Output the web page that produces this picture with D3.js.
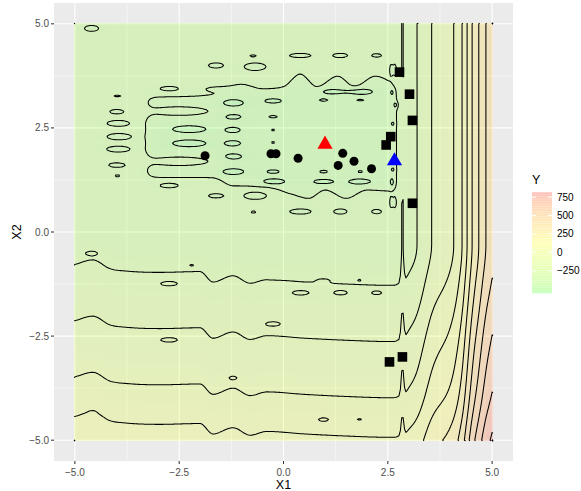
<!DOCTYPE html>
<html lang="en">
<head>
  <meta charset="utf-8">
  <title>Y over X1, X2</title>
  <script src="https://cdn.jsdelivr.net/npm/d3@7/dist/d3.min.js"></script>
  <style>
    html,body{margin:0;background:#fff}
    svg{display:block;font-family:"Liberation Sans",Arial,sans-serif}
    .tick-lab{font-size:10px;fill:#4d4d4d}
    .ax-title{font-size:12.5px;fill:#000}
  </style>
</head>
<body>
<svg id="chart" width="581" height="491"></svg>
<script>
// ---- values ----
const baseY = -350;                      // flat upper plateau
// rise of Y along X1 (top half), contour crossings read from the right side
const x1Knots = [-5, 2.6, 2.78, 2.85, 2.92, 3.0, 3.2, 3.55, 4.08, 4.28, 4.4, 4.52, 4.68, 4.85, 5.0];
const x1Rise  = [0, 0, 5, 58, 12, 20, 50, 150, 250, 350, 450, 550, 650, 750, 812];
// rise of Y along X2 (left part), from the horizontal contours
const x2Knots = [-5, -4.65, -3.7, -2.35, -1.0, -0.3, 0, 5];
const x2Rise  = [385, 350, 250, 150, 50, 6, 0, 0];
// vertical drift of those horizontal contours along X1
const driftX1 = [-5, -4.57, -4.16, -3.75, -2.96, -2.0, -1.69, -1.21, -0.8, -0.4, 0.5, 1.5, 2.5, 5];
const drift   = [0.22, 0.33, 0.12, 0.06, 0.03, 0.05, -0.2, -0.05, -0.23, -0.14, -0.2, -0.25, -0.28, -0.28];
// the closed basin in the upper middle
const basinX1 = [-3.3, 2.72];
const basinTopX1 = [-3.3, -1.7, -1.0, -0.5, 0.0, 0.4, 0.8, 1.3, 1.7, 2.2, 2.72];
const basinTop   = [3.25, 3.3, 3.55, 3.45, 3.5, 3.8, 3.5, 3.75, 3.5, 3.75, 3.55];
const basinBotX1 = [-3.3, -1.7, -1.2, -0.5, 0.2, 0.6, 1.0, 1.5, 2.0, 2.72];
const basinBot   = [1.3, 1.3, 1.1, 1.1, 0.9, 0.8, 1.0, 0.8, 1.0, 0.95];
const basinDepth = -95;
// small closed contours: x1, x2, half width, half height, level they trace
const blobs = [
  [-4.6, 4.89, 0.17, 0.07, -400], [-0.73, 4.23, 0.07, 0.025, -400], [-1.62, 4.0, 0.18, 0.06, -400],
  [-0.68, 3.97, 0.26, 0.09, -400], [0.4, 4.24, 0.26, 0.05, -400], [1.36, 4.24, 0.18, 0.05, -400],
  [2.23, 4.24, 0.12, 0.04, -400],
  [-3.98, 3.27, 0.08, 0.02, -400], [-3.98, 2.89, 0.2, 0.06, -400], [-3.96, 2.61, 0.27, 0.07, -400],
  [-3.94, 2.29, 0.29, 0.075, -400], [-3.96, 1.99, 0.28, 0.07, -400], [-3.98, 1.61, 0.22, 0.06, -400],
  [-3.98, 1.35, 0.08, 0.02, -400],
  [-2.74, 3.45, 0.22, 0.05, -400], [-1.6, 3.44, 0.3, 0.06, -400],
  [-2.74, 1.11, 0.22, 0.05, -400], [-1.62, 0.87, 0.18, 0.05, -400], [-0.68, 0.86, 0.27, 0.08, -400],
  [-0.72, 0.48, 0.06, 0.025, -400], [0.4, 0.49, 0.26, 0.06, -400], [1.36, 0.49, 0.16, 0.06, -400],
  [2.23, 0.49, 0.12, 0.05, -400],
  [-2.5, 2.9, 0.7, 0.1, -400], [-2.5, 1.7, 0.7, 0.1, -400],
  [-2.26, 2.47, 0.4, 0.08, -500], [-2.26, 2.13, 0.4, 0.08, -500],
  [-1.21, 3.1, 0.25, 0.08, -500], [-1.21, 2.77, 0.2, 0.06, -500], [-1.21, 2.45, 0.17, 0.06, -500],
  [-1.21, 2.13, 0.18, 0.06, -500], [-1.21, 1.81, 0.22, 0.07, -500], [-1.21, 1.45, 0.26, 0.07, -500],
  [-0.25, 3.15, 0.2, 0.05, -500], [-0.25, 2.77, 0.1, 0.03, -500], [-0.25, 2.45, 0.05, 0.02, -500],
  [-0.25, 2.15, 0.05, 0.02, -500], [-0.25, 1.45, 0.15, 0.04, -500], [-0.25, 1.21, 0.25, 0.06, -500],
  [0.96, 3.17, 0.1, 0.03, -500], [1.15, 3.37, 0.22, 0.05, -500], [1.84, 3.37, 0.26, 0.06, -500],
  [1.84, 3.17, 0.08, 0.02, -500], [0.96, 1.45, 0.1, 0.03, -500], [0.96, 1.21, 0.22, 0.05, -500],
  [1.84, 1.45, 0.08, 0.02, -500], [1.84, 1.21, 0.26, 0.06, -500],
  [2.58, 3.9, 0.035, 0.13, -400], [2.67, 3.9, 0.035, 0.13, -400], [2.6, 3.35, 0.03, 0.05, -500],
  [2.68, 3.05, 0.03, 0.05, -500], [2.62, 2.6, 0.03, 0.04, -500], [2.62, 1.5, 0.03, 0.04, -500],
  [2.6, 1.2, 0.035, 0.08, -500], [2.58, 0.7, 0.035, 0.12, -400], [2.67, 0.7, 0.035, 0.12, -400],
  [-4.6, -0.5, 0.17, 0.05, -300], [-2.2, -0.79, 0.05, 0.02, -300], [-2.74, -1.25, 0.2, 0.05, -300],
  [-0.25, -1.15, 0.2, 0.05, -300], [0.96, -1.15, 0.15, 0.04, -300], [1.82, -1.15, 0.05, 0.02, -300],
  [0.4, -1.47, 0.2, 0.05, -300], [1.36, -1.47, 0.16, 0.05, -300], [2.23, -1.47, 0.12, 0.04, -300],
  [-2.74, -2.6, 0.2, 0.05, -200], [-0.25, -2.2, 0.18, 0.05, -200], [-1.21, -3.5, 0.1, 0.04, -100],
  [-4.58, -4.3, 0.12, 0.04, 0], [0.96, -4.5, 0.12, 0.04, 0], [1.82, -4.5, 0.05, 0.02, 0]
];
// points
const circleX1 = [-1.88, -0.3, -0.18, 0.35, 1.42, 1.31, 1.69, 2.11];
const circleX2 = [1.83, 1.88, 1.88, 1.77, 1.89, 1.60, 1.70, 1.52];
const squareX1 = [2.78, 3.02, 3.09, 2.57, 2.46, 3.09, 2.54, 2.85];
const squareX2 = [3.84, 3.31, 2.68, 2.29, 2.09, 0.69, -3.12, -3.0];
const redX1 = [0.995], redX2 = [2.13];
const blueX1 = [2.66], blueX2 = [1.73];
const axisTicks = [-5, -2.5, 0, 2.5, 5];
const minorTicks = [-3.75, -1.25, 1.25, 3.75];
const legendTicks = [750, 500, 250, 0, -250];

// ---- field ----
// monotone cubic through knots (flat beyond the ends)
function monotone(xs, ys) {
  const n = xs.length, d = [], m = new Array(n);
  for (let i = 0; i < n - 1; i++) d[i] = (ys[i + 1] - ys[i]) / (xs[i + 1] - xs[i]);
  m[0] = d[0]; m[n - 1] = d[n - 2];
  for (let i = 1; i < n - 1; i++) m[i] = d[i - 1] * d[i] <= 0 ? 0 : (d[i - 1] + d[i]) / 2;
  for (let i = 0; i < n - 1; i++) {
    if (d[i] === 0) { m[i] = 0; m[i + 1] = 0; continue; }
    const a = m[i] / d[i], b = m[i + 1] / d[i], s = a * a + b * b;
    if (s > 9) { const t = 3 / Math.sqrt(s); m[i] = t * a * d[i]; m[i + 1] = t * b * d[i]; }
  }
  return v => {
    if (v <= xs[0]) return ys[0];
    if (v >= xs[n - 1]) return ys[n - 1];
    const i = Math.min(n - 2, d3.bisectRight(xs, v) - 1);
    const h = xs[i + 1] - xs[i], t = (v - xs[i]) / h, t2 = t * t, t3 = t2 * t;
    return (2 * t3 - 3 * t2 + 1) * ys[i] + (t3 - 2 * t2 + t) * h * m[i] + (-2 * t3 + 3 * t2) * ys[i + 1] + (t3 - t2) * h * m[i + 1];
  };
}
const rise1 = monotone(x1Knots, x1Rise);
const rise2 = monotone(x2Knots, x2Rise);
const shift2 = monotone(driftX1, drift);
const topAt = monotone(basinTopX1, basinTop);
const botAt = monotone(basinBotX1, basinBot);
const sig = u => 1 / (1 + Math.exp(-u / 0.08));
const basin = (a, b) => basinDepth * sig(a - basinX1[0]) * sig(basinX1[1] - a) * sig(b - botAt(a)) * sig(topAt(a) - b);
const base = (a, b) => baseY + rise1(a) + rise2(b - shift2(a)) + basin(a, b);
const Q = 0.6, C = -Math.log(Q);
const blobAmp = blobs.map(d => (d[4] - base(d[0], d[1])) / Q);
function field(a, b) {
  let v = base(a, b);
  for (let k = 0; k < blobs.length; k++) {
    const d = blobs[k], dx = (a - d[0]) / d[2], dy = (b - d[1]) / d[3], r2 = dx * dx + dy * dy;
    if (r2 < 40) v += blobAmp[k] * Math.exp(-C * r2);
  }
  return v;
}

const N = 301, step = 10 / (N - 1);
const values = new Float64Array(N * N);
for (let j = 0; j < N; j++) {
  const b = 5 - j * step;
  for (let i = 0; i < N; i++) values[j * N + i] = field(-5 + i * step, b);
}
const [vmin, vmax] = d3.extent(values);
const pal = d3.piecewise(d3.interpolateLab, ['#00ff00', '#ffff00', '#ff0000']);
const tScale = d3.scaleLinear().domain([vmin, vmax]).range([0, 1]).clamp(true);
const fillColor = v => pal(tScale(v));

// ---- layout ----
const svg = d3.select('#chart');
const x = d3.scaleLinear().domain([-5.5, 5.5]).range([54, 513]);
const y = d3.scaleLinear().domain([-5.5, 5.5]).range([461, 3]);

svg.append('rect').attr('x', 54).attr('y', 3).attr('width', 459).attr('height', 458).attr('fill', '#ebebeb');
const grid = svg.append('g').attr('stroke', '#fff').attr('fill', 'none');
minorTicks.forEach(t => {
  grid.append('line').attr('x1', x(t)).attr('x2', x(t)).attr('y1', 3).attr('y2', 461).attr('stroke-width', 0.55);
  grid.append('line').attr('y1', y(t)).attr('y2', y(t)).attr('x1', 54).attr('x2', 513).attr('stroke-width', 0.55);
});
axisTicks.forEach(t => {
  grid.append('line').attr('x1', x(t)).attr('x2', x(t)).attr('y1', 3).attr('y2', 461).attr('stroke-width', 1.1);
  grid.append('line').attr('y1', y(t)).attr('y2', y(t)).attr('x1', 54).attr('x2', 513).attr('stroke-width', 1.1);
});

// raster
const cv = document.createElement('canvas');
cv.width = N; cv.height = N;
const ctx = cv.getContext('2d');
const img = ctx.createImageData(N, N);
for (let k = 0; k < N * N; k++) {
  const c = d3.rgb(fillColor(values[k]));
  img.data[4 * k] = c.r; img.data[4 * k + 1] = c.g; img.data[4 * k + 2] = c.b; img.data[4 * k + 3] = 255;
}
ctx.putImageData(img, 0, 0);
svg.append('image').attr('href', cv.toDataURL())
  .attr('x', x(-5 - step / 2)).attr('y', y(5 + step / 2))
  .attr('width', x(5 + step / 2) - x(-5 - step / 2)).attr('height', y(-5 - step / 2) - y(5 + step / 2))
  .attr('preserveAspectRatio', 'none').attr('opacity', 0.2);

// contours (edges of the grid are not drawn)
const levels = d3.range(-500, 900, 100);
const cs = d3.contours().size([N, N]).thresholds(levels)(values);
const gx = g => x(-5 + (g - 0.5) * step), gy = g => y(5 - (g - 0.5) * step);
const onBorder = (p, q) => (p[0] === q[0] && (p[0] === 0 || p[0] === N)) || (p[1] === q[1] && (p[1] === 0 || p[1] === N));
function isoPath(mp) {
  let s = '';
  mp.coordinates.forEach(poly => poly.forEach(ring => {
    ring.forEach((p, k) => {
      const cmd = (k === 0 || onBorder(ring[k - 1], p)) ? 'M' : 'L';
      s += cmd + gx(p[0]).toFixed(2) + ',' + gy(p[1]).toFixed(2);
    });
  }));
  return s;
}
svg.append('g').selectAll('path').data(cs).join('path')
  .attr('d', isoPath).attr('fill', 'none').attr('stroke', '#000').attr('stroke-width', 1.05)
  .attr('stroke-linejoin', 'round');

// points
const pts = svg.append('g');
pts.selectAll('circle').data(circleX1).join('circle')
  .attr('cx', d => x(d)).attr('cy', (d, i) => y(circleX2[i])).attr('r', 4.5).attr('fill', '#000');
pts.selectAll('rect').data(squareX1).join('rect')
  .attr('x', d => x(d) - 4.8).attr('y', (d, i) => y(squareX2[i]) - 4.8).attr('width', 9.6).attr('height', 9.6).attr('fill', '#000');
const tri = d3.symbol().type(d3.symbolTriangle).size(100);
pts.selectAll('path.red').data(redX1).join('path').attr('class', 'red')
  .attr('d', tri).attr('transform', (d, i) => `translate(${x(d)},${y(redX2[i]) + 1})`).attr('fill', '#ff0000');
pts.selectAll('path.blue').data(blueX1).join('path').attr('class', 'blue')
  .attr('d', tri).attr('transform', (d, i) => `translate(${x(d)},${y(blueX2[i]) + 1})`).attr('fill', '#0000ff');

// axes
const fmt = v => (v < 0 ? '\u2212' : '') + Math.abs(v).toFixed(1);
const ax = svg.append('g');
axisTicks.forEach(t => {
  ax.append('line').attr('x1', x(t)).attr('x2', x(t)).attr('y1', 461).attr('y2', 464).attr('stroke', '#333').attr('stroke-width', 1.05);
  ax.append('text').attr('class', 'tick-lab').attr('x', x(t)).attr('y', 475.5).attr('text-anchor', 'middle').text(fmt(t));
  ax.append('line').attr('y1', y(t)).attr('y2', y(t)).attr('x1', 51).attr('x2', 54).attr('stroke', '#333').attr('stroke-width', 1.05);
  ax.append('text').attr('class', 'tick-lab').attr('x', 49).attr('y', y(t) + 3.5).attr('text-anchor', 'end').text(fmt(t));
});
ax.append('text').attr('class', 'ax-title').attr('x', x(0)).attr('y', 488.5).attr('text-anchor', 'middle').text('X1');
ax.append('text').attr('class', 'ax-title').attr('transform', `translate(21,${y(0)}) rotate(-90)`).attr('text-anchor', 'middle').text('X2');

// legend
const lg = svg.append('g');
const barX = 532, barW = 20, barTop = 192, barBot = 293;
const ly = d3.scaleLinear().domain([vmin, vmax]).range([barBot, barTop]);
const nb = 60;
d3.range(nb).forEach(k => {
  const v0 = vmin + (vmax - vmin) * k / nb, v1 = vmin + (vmax - vmin) * (k + 1) / nb;
  lg.append('rect').attr('x', barX).attr('width', barW).attr('y', ly(v1)).attr('height', ly(v0) - ly(v1) + 0.5)
    .attr('fill', fillColor((v0 + v1) / 2)).attr('fill-opacity', 0.2);
});
legendTicks.forEach(t => {
  lg.append('line').attr('x1', barX).attr('x2', barX + 4).attr('y1', ly(t)).attr('y2', ly(t)).attr('stroke', '#fff');
  lg.append('line').attr('x1', barX + barW - 4).attr('x2', barX + barW).attr('y1', ly(t)).attr('y2', ly(t)).attr('stroke', '#fff');
  lg.append('text').attr('class', 'tick-lab').attr('x', barX + barW + 5).attr('y', ly(t) + 3.5).style('fill', '#000')
    .text(t < 0 ? '\u2212' + Math.abs(t) : t);
});
lg.append('text').attr('x', barX).attr('y', 184).style('font-size', '12.5px').text('Y');
</script>
</body>
</html>
